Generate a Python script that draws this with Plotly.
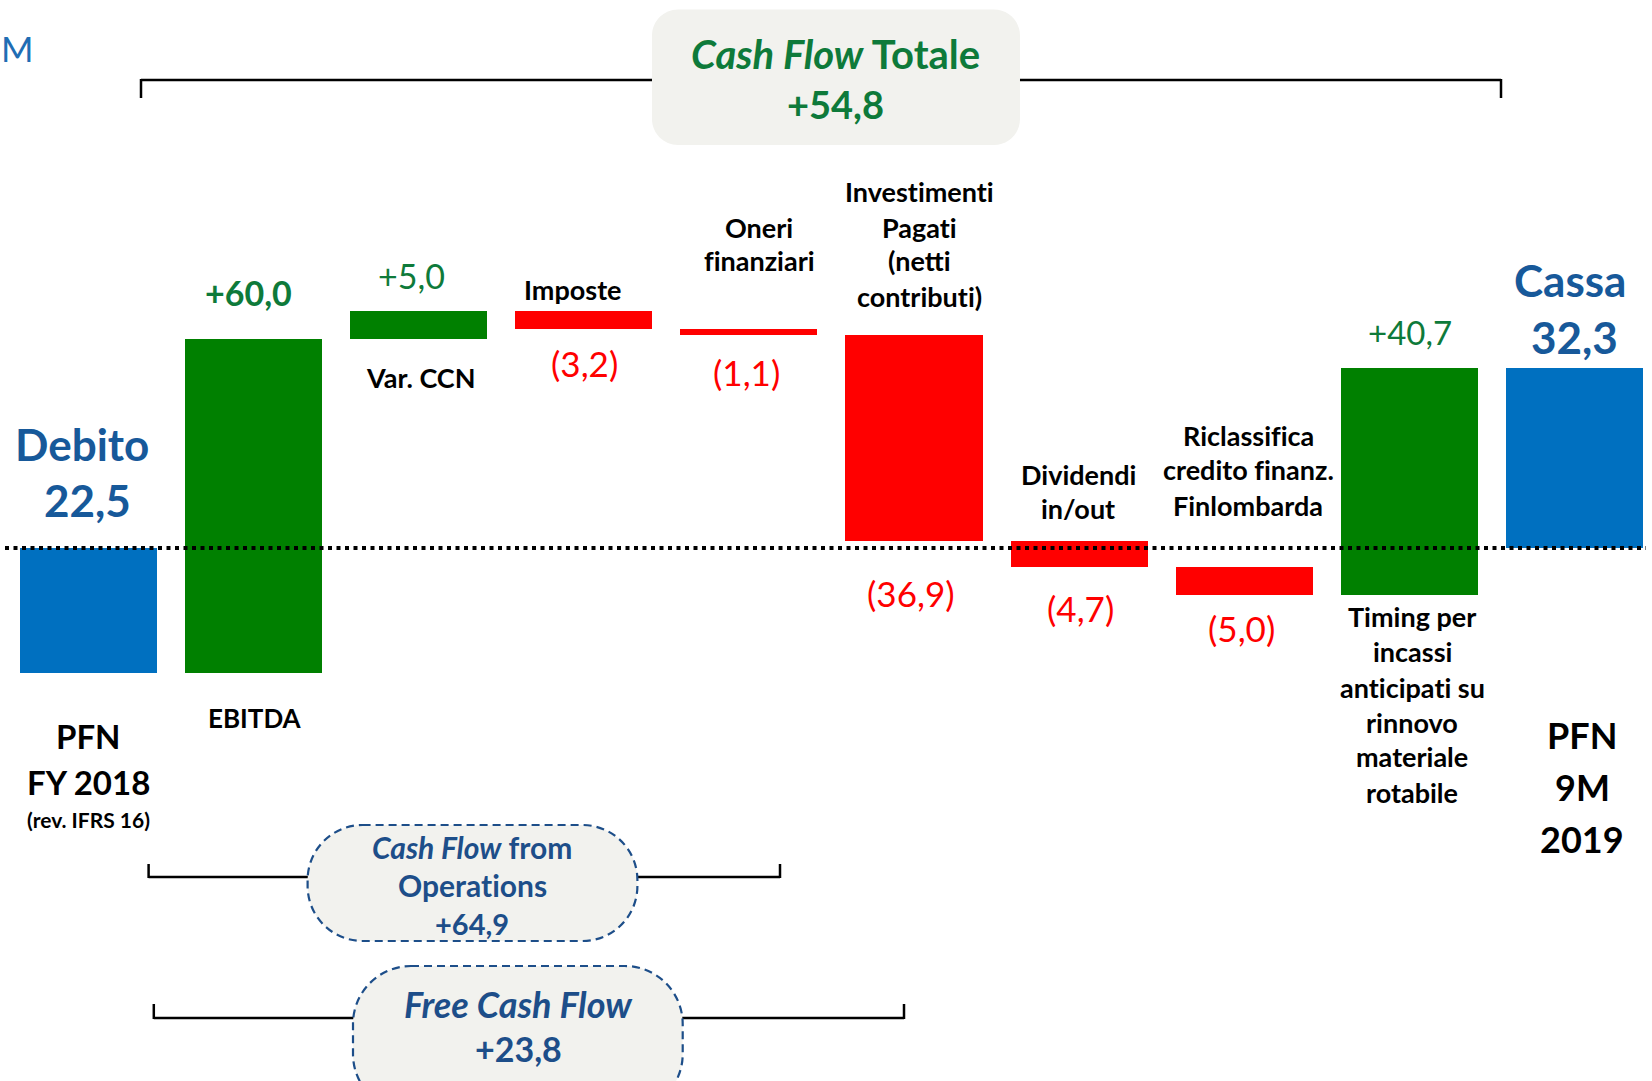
import plotly.graph_objects as go

# ---------------- data ----------------
categories = ["PFN FY 2018", "EBITDA", "Var. CCN", "Imposte", "Oneri finanziari",
              "Investimenti Pagati", "Dividendi in/out", "Riclassifica Finlombarda",
              "Timing incassi", "PFN 9M 2019"]
pfn_start = -22.5          # Debito 22,5 (shown below zero)
deltas = [60.0, 5.0, -3.2, -1.1, -36.9, -4.7, -5.0, 40.7]
pfn_end = 32.3             # Cassa 32,3
delta_labels = ["+60,0", "+5,0", "(3,2)", "(1,1)", "(36,9)", "(4,7)", "(5,0)", "+40,7"]
cf_totale = "+54,8"
cf_operations = "+64,9"
free_cash_flow = "+23,8"

# ---------------- geometry helpers ----------------
W, H = 1652, 1081
GREEN_BAR, RED_BAR, BLUE_BAR = "#008000", "#FF0000", "#0070C0"
TXT_GREEN = "#0E7A3A"
TXT_BLUE = "#17599A"
NAVY = "#1D4E89"
FONT = "Lato, 'Open Sans', sans-serif"
ZWNJ = "\u200c"  # breaks fi / ti ligatures so glyphs look like the original

def nolig(s):
    return s.replace("fi", "f" + ZWNJ + "i").replace("ti", "t" + ZWNJ + "i")

def px(x):
    return x / W

def py(y):
    return 1 - y / H

# waterfall bases / heights
bases, heights, colors = [0.0], [pfn_start], [BLUE_BAR]
level = pfn_start
for d in deltas:
    bases.append(level)
    heights.append(d)
    colors.append(GREEN_BAR if d >= 0 else RED_BAR)
    level += d
bases.append(0.0)
heights.append(pfn_end)
colors.append(BLUE_BAR)
xs = list(range(len(categories)))

fig = go.Figure(go.Bar(
    x=xs, y=heights, base=bases, width=0.83,
    marker=dict(color=colors, line=dict(width=0)),
    hovertext=categories, hoverinfo="text",
))

annotations = []

def txt(x, y, s, size, color="black", bold=True, italic=False, xanchor="center"):
    s = nolig(s)
    if italic:
        s = "<i>" + s + "</i>"
    if bold:
        s = "<b>" + s + "</b>"
    annotations.append(dict(
        x=px(x), y=py(y), xref="paper", yref="paper", text=s, showarrow=False,
        xanchor=xanchor, yanchor="middle", borderpad=0,
        font=dict(family=FONT, size=size, color=color)))

def lines(x, ys, texts, size, color="black", bold=True):
    for y, t in zip(ys, texts):
        txt(x, y, t, size, color, bold)

shapes = []

def seg(x0, y0, x1, y1, width=2.5, color="black", dash=None):
    shapes.append(dict(type="line", xref="paper", yref="paper",
                       x0=px(x0), y0=py(y0), x1=px(x1), y1=py(y1),
                       line=dict(color=color, width=width, dash=dash)))

def rounded(x0, y0, x1, y1, r, fill, line_color=None, dash=None, lw=2.5):
    k = 0.5523 * r
    pts = [
        ("M", [(x0 + r, y0)]),
        ("L", [(x1 - r, y0)]),
        ("C", [(x1 - r + k, y0), (x1, y0 + r - k), (x1, y0 + r)]),
        ("L", [(x1, y1 - r)]),
        ("C", [(x1, y1 - r + k), (x1 - r + k, y1), (x1 - r, y1)]),
        ("L", [(x0 + r, y1)]),
        ("C", [(x0 + r - k, y1), (x0, y1 - r + k), (x0, y1 - r)]),
        ("L", [(x0, y0 + r)]),
        ("C", [(x0, y0 + r - k), (x0 + r - k, y0), (x0 + r, y0)]),
    ]
    path = ""
    for cmd, p in pts:
        path += cmd + " " + " ".join("%.5f,%.5f" % (px(a), py(b)) for a, b in p) + " "
    path += "Z"
    shapes.append(dict(type="path", xref="paper", yref="paper", path=path,
                       fillcolor=fill,
                       line=dict(color=line_color or fill, width=lw if line_color else 0,
                                 dash=dash)))

# ---------------- top bracket + box ----------------
seg(141, 80, 1501, 80)
seg(141, 79, 141, 98)
seg(1501, 79, 1501, 98)
rounded(652, 9.5, 1020, 145, 26, "#F2F2EE")
txt(835, 54, "<i>Cash Flow</i> Totale", 40, TXT_GREEN)
txt(835, 104, cf_totale, 38, TXT_GREEN)

# ---------------- unit ----------------
txt(0, 48, "M", 35, "#1F6DB4", bold=False, xanchor="left")

# ---------------- bar labels ----------------
txt(248, 292, delta_labels[0], 34, TXT_GREEN)
txt(411, 276, delta_labels[1], 34, TXT_GREEN, bold=False)
txt(572, 289, "Imposte", 27)
txt(584, 363, delta_labels[2], 35, RED_BAR, bold=False)
txt(421, 377, "Var. CCN", 27)
lines(759, [227, 261], ["Oneri", "finanziari"], 27)
txt(746, 372, delta_labels[3], 35, RED_BAR, bold=False)
lines(919, [192, 227, 261, 296], ["Investimenti", "Pagati", "(netti", "contributi)"], 27)
txt(911, 593, delta_labels[4], 35, RED_BAR, bold=False)
lines(1078, [474, 509], ["Dividendi", "in/out"], 27)
txt(1080, 608, delta_labels[5], 35, RED_BAR, bold=False)
lines(1248, [435, 470, 505], ["Riclassifica", "credito finanz.", "Finlombarda"], 27)
txt(1241, 628, delta_labels[6], 35, RED_BAR, bold=False)
txt(1410, 332, delta_labels[7], 33, TXT_GREEN, bold=False)
txt(1570, 280, "Cassa", 44, TXT_BLUE)
txt(1574, 337, "32,3", 44, TXT_BLUE)
txt(82, 444, "Debito", 44, TXT_BLUE)
txt(87, 500, "22,5", 44, TXT_BLUE)

# ---------------- category labels ----------------
txt(88, 736, "PFN", 33)
txt(88, 782, "FY 2018", 33)
txt(88, 819, "(rev. IFRS 16)", 21)
txt(255, 718, "EBITDA", 26)
lines(1412, [616, 651, 687, 722, 756, 792],
      ["Timing per", "incassi", "anticipati su", "rinnovo", "materiale", "rotabile"], 27)
lines(1582, [735, 787, 839], ["PFN", "9M", "2019"], 36)

# ---------------- bottom brackets ----------------
seg(148.6, 877, 780, 877)
seg(148.6, 864, 148.6, 878)
seg(780, 864, 780, 878)
rounded(307.6, 825, 637.4, 941, 55, "#F2F2EE", NAVY, "8px,5px", 2.2)
txt(472, 847, "<i>Cash Flow</i> from", 30, NAVY)
txt(472, 885, "Operations", 30, NAVY)
txt(472, 923, cf_operations, 29, NAVY)

seg(153.8, 1018, 904, 1018)
seg(153.8, 1004, 153.8, 1019)
seg(904, 1004, 904, 1019)
rounded(353, 966, 682.7, 1112, 58, "#F2F2EE", NAVY, "8px,5px", 2.2)
txt(518, 1004, "<i>Free Cash Flow</i>", 36, NAVY)
txt(518, 1048, free_cash_flow, 34, NAVY)

# ---------------- dotted zero line (above bars) ----------------
shapes.append(dict(type="line", xref="paper", yref="y", x0=px(5), x1=px(1646), y0=0, y1=0,
                   line=dict(color="black", width=4, dash="4px,4.5px"), layer="above"))

# axis ranges so that 1 unit = 5.567 px, zero at y=548, bar 0 centre at x=88.5
ypx = 5.567
xpx = 165.1
fig.update_layout(
    width=W, height=H,
    margin=dict(l=0, r=0, t=0, b=0),
    paper_bgcolor="white", plot_bgcolor="white",
    showlegend=False,
    bargap=0,
    xaxis=dict(range=[-88.5 / xpx, (W - 88.5) / xpx], visible=False, fixedrange=True),
    yaxis=dict(range=[(548 - H) / ypx, 548 / ypx], visible=False, fixedrange=True),
    shapes=shapes,
    annotations=annotations,
)

fig.write_html("out.html")
